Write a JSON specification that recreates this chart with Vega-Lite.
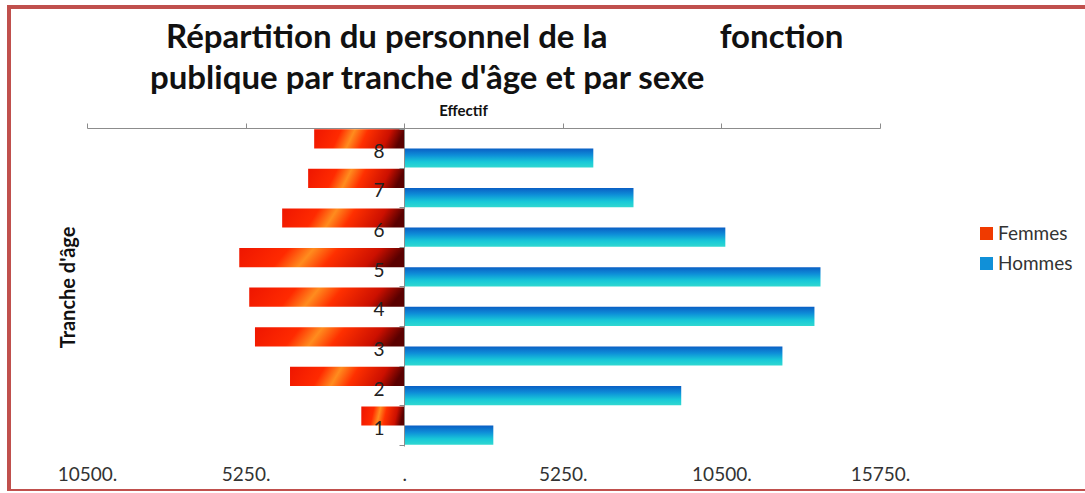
{
  "$schema": "https://vega.github.io/schema/vega-lite/v6.json",
  "width": 1090,
  "height": 484,
  "autosize": "none",
  "padding": {"left": 9, "top": 7, "right": 0, "bottom": 0},
  "background": "white",
  "title": {
    "text": ["\u200b\u00a0\u00a0Répartition du personnel de la\u00a0\u00a0\u00a0\u00a0\u00a0\u00a0\u00a0\u00a0\u00a0\u00a0\u00a0\u00a0\u00a0\u00a0fonction", "publique par tranche d'âge et par sexe"],
    "font": "Lato",
    "fontSize": 33,
    "fontWeight": "bold",
    "color": "#111111",
    "anchor": "start",
    "align": "left",
    "dx": 141,
    "lineHeight": 41,
    "offset": -98
  },
  "data": {
    "values": [
      {"age": "1", "sexe": "Femmes", "effectif": -1420},
      {"age": "2", "sexe": "Femmes", "effectif": -3780},
      {"age": "3", "sexe": "Femmes", "effectif": -4940},
      {"age": "4", "sexe": "Femmes", "effectif": -5130},
      {"age": "5", "sexe": "Femmes", "effectif": -5460},
      {"age": "6", "sexe": "Femmes", "effectif": -4040},
      {"age": "7", "sexe": "Femmes", "effectif": -3180},
      {"age": "8", "sexe": "Femmes", "effectif": -2980},
      {"age": "1", "sexe": "Hommes", "effectif": 2950},
      {"age": "2", "sexe": "Hommes", "effectif": 9170},
      {"age": "3", "sexe": "Hommes", "effectif": 12520},
      {"age": "4", "sexe": "Hommes", "effectif": 13580},
      {"age": "5", "sexe": "Hommes", "effectif": 13780},
      {"age": "6", "sexe": "Hommes", "effectif": 10630},
      {"age": "7", "sexe": "Hommes", "effectif": 7590},
      {"age": "8", "sexe": "Hommes", "effectif": 6260}
    ]
  },
  "encoding": {
    "y": {
      "field": "age",
      "type": "ordinal",
      "sort": "descending",
      "scale": {"range": [121, 439], "paddingInner": 0.03, "paddingOuter": 0.03},
      "axis": {
        "orient": "left",
        "offset": -395,
        "domain": true,
        "domainColor": "#8c8c8c",
        "ticks": true,
        "tickBand": "extent",
        "tickSize": 5,
        "tickColor": "#8c8c8c",
        "labelFont": "Lato",
        "labelFontSize": 19,
        "labelColor": "#222222",
        "labelPadding": 15,
        "labelOffset": 3,
        "labelAngle": 0,
        "title": "Tranche d'âge",
        "titleFont": "Lato",
        "titleFontSize": 20,
        "titleFontWeight": "bold",
        "titleColor": "#111111",
        "titleAngle": -90,
        "titleX": -336,
        "titleY": 280,
        "titleAlign": "center",
        "titleBaseline": "middle",
        "zindex": 1
      }
    },
    "yOffset": {
      "field": "sexe",
      "sort": ["Femmes", "Hommes"],
      "scale": {"paddingInner": 0, "paddingOuter": 0}
    },
    "x": {
      "field": "effectif",
      "type": "quantitative",
      "scale": {"domain": [-10500, 15750], "range": [78, 871], "nice": false, "zero": false},
      "axis": {
        "orient": "top",
        "offset": -121,
        "values": [-10500, -5250, 0, 5250, 10500, 15750],
        "labelExpr": "datum.value == 0 ? '.' : format(abs(datum.value), 'd') + '.'",
        "grid": false,
        "domainColor": "#8c8c8c",
        "tickColor": "#8c8c8c",
        "tickSize": 5,
        "labelFont": "Lato",
        "labelFontSize": 19,
        "labelColor": "#333333",
        "labelPadding": -361,
        "labelFlush": false,
        "labelOverlap": false,
        "title": "Effectif",
        "titleFont": "Lato",
        "titleFontSize": 15,
        "titleFontWeight": "bold",
        "titleColor": "#111111",
        "titlePadding": 4,
        "titleX": 454
      }
    }
  },
  "layer": [
    {
      "mark": {"type": "bar", "opacity": 0},
      "encoding": {
        "color": {
          "field": "sexe",
          "type": "nominal",
          "scale": {"domain": ["Femmes", "Hommes"], "range": ["#f03a00", "#1090d8"]},
          "legend": {
            "orient": "none",
            "legendX": 968,
            "legendY": 217,
            "title": null,
            "symbolType": "square",
            "symbolSize": 169,
            "symbolStrokeWidth": 0,
            "symbolOpacity": 1,
            "labelFont": "Lato",
            "labelFontSize": 19,
            "labelColor": "#333333",
            "labelOffset": 2,
            "rowPadding": 10,
            "padding": 0
          }
        }
      }
    },
    {
      "mark": {"type": "bar"},
      "encoding": {
        "fill": {
          "condition": {
            "test": "datum.sexe === 'Femmes'",
            "value": {"gradient": "linear", "x1": 0, "y1": 0, "x2": 1, "y2": 0.1, "stops": [
              {"offset": 0, "color": "#ee1600"},
              {"offset": 0.3, "color": "#ff2a00"},
              {"offset": 0.45, "color": "#ff8c1e"},
              {"offset": 0.6, "color": "#ff3000"},
              {"offset": 0.85, "color": "#cc1000"},
              {"offset": 1, "color": "#5a0000"}
            ]}
          },
          "value": {"gradient": "linear", "x1": 0, "y1": 0, "x2": 0, "y2": 1, "stops": [
            {"offset": 0, "color": "#0a5ec4"},
            {"offset": 0.35, "color": "#0e8ed8"},
            {"offset": 0.7, "color": "#18c8d8"},
            {"offset": 1, "color": "#30d8d0"}
          ]}
        }
      }
    }
  ],
  "config": {"view": {"stroke": "#c0504d", "strokeWidth": 4}}
}
